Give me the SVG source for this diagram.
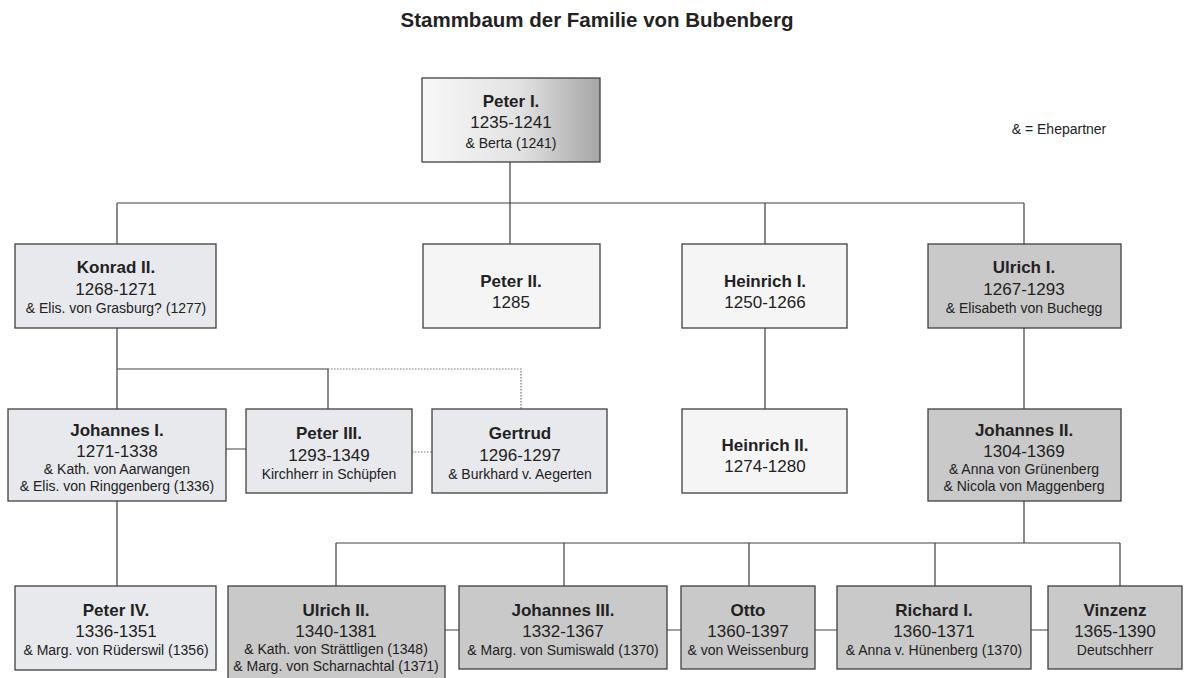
<svg xmlns="http://www.w3.org/2000/svg" width="1192" height="678" viewBox="0 0 1192 678">
<defs>
<linearGradient id="g1" x1="0" y1="0" x2="1" y2="0">
<stop offset="0" stop-color="#f8f8f8"/>
<stop offset="0.55" stop-color="#e2e2e2"/>
<stop offset="1" stop-color="#a6a6a6"/>
</linearGradient>
</defs>
<style>
.box{stroke:#404040;stroke-width:1.3}
.a{fill:#e8e9ec}
.b{fill:#f5f5f5}
.c{fill:#c9c9c9}
text{font-family:"Liberation Sans",Arial,sans-serif;fill:#222;text-anchor:middle}
.n{font-weight:bold;font-size:17px}
.y{font-size:17px}
.s{font-size:14px}
.t{font-weight:bold;font-size:20.5px}
.l{stroke:#404040;stroke-width:1.2;fill:none}
.d{stroke:#707070;stroke-width:1.2;fill:none;stroke-dasharray:1.5 1.5}
</style>
<rect width="1192" height="678" fill="#fff"/>
<text class="t" x="597" y="27">Stammbaum der Familie von Bubenberg</text>
<text x="1059" y="134" class="s">&amp; = Ehepartner</text>
<g id="connectors">
<path class="l" d="M510 162V203M117 203H1024M117 203V244M510 203V244M765 203V244M1024 203V244"/>
<path class="l" d="M117 328V409M117 369H328V409M226 449H246"/>
<path class="d" d="M328 369H521V409M412 452H432"/>
<path class="l" d="M765 328V409M1024 328V409"/>
<path class="l" d="M117 501V586M1024 501V543M336 543H1120M336 543V586M564 543V586M749 543V586M935 543V586M1120 543V586"/>
<path class="l" d="M445 630H459M667 630H681M815 630H837M1031 630H1048"/>
</g>
<g id="peter1"><rect class="box" x="422" y="78" width="178" height="84" fill="url(#g1)"/><text class="n" x="511" y="107">Peter I.</text><text class="y" x="511" y="128">1235-1241</text><text class="s" x="511" y="148">&amp; Berta (1241)</text></g>
<g id="konrad2"><rect class="box a" x="15" y="244" width="201" height="84"/><text class="n" x="116" y="273">Konrad II.</text><text class="y" x="116" y="295">1268-1271</text><text class="s" x="116" y="313">&amp; Elis. von Grasburg? (1277)</text></g>
<g id="peter2"><rect class="box b" x="423" y="244" width="177" height="84"/><text class="n" x="511" y="287">Peter II.</text><text class="y" x="511" y="308">1285</text></g>
<g id="heinrich1"><rect class="box b" x="682" y="244" width="165" height="84"/><text class="n" x="765" y="287">Heinrich I.</text><text class="y" x="765" y="308">1250-1266</text></g>
<g id="ulrich1"><rect class="box c" x="928" y="244" width="193" height="84"/><text class="n" x="1024" y="273">Ulrich I.</text><text class="y" x="1024" y="295">1267-1293</text><text class="s" x="1024" y="313">&amp; Elisabeth von Buchegg</text></g>
<g id="johannes1"><rect class="box a" x="8" y="409" width="218" height="92"/><text class="n" x="117" y="436">Johannes I.</text><text class="y" x="117" y="457">1271-1338</text><text class="s" x="117" y="474">&amp; Kath. von Aarwangen</text><text class="s" x="117" y="491">&amp; Elis. von Ringgenberg (1336)</text></g>
<g id="peter3"><rect class="box a" x="246" y="409" width="166" height="84"/><text class="n" x="329" y="439">Peter III.</text><text class="y" x="329" y="461">1293-1349</text><text class="s" x="329" y="479">Kirchherr in Schüpfen</text></g>
<g id="gertrud"><rect class="box a" x="432" y="409" width="175" height="84"/><text class="n" x="520" y="439">Gertrud</text><text class="y" x="520" y="461">1296-1297</text><text class="s" x="520" y="479">&amp; Burkhard v. Aegerten</text></g>
<g id="heinrich2"><rect class="box b" x="682" y="409" width="165" height="84"/><text class="n" x="765" y="451">Heinrich II.</text><text class="y" x="765" y="472">1274-1280</text></g>
<g id="johannes2"><rect class="box c" x="928" y="409" width="193" height="92"/><text class="n" x="1024" y="436">Johannes II.</text><text class="y" x="1024" y="457">1304-1369</text><text class="s" x="1024" y="474">&amp; Anna von Grünenberg</text><text class="s" x="1024" y="491">&amp; Nicola von Maggenberg</text></g>
<g id="peter4"><rect class="box a" x="15" y="586" width="201" height="84"/><text class="n" x="116" y="616">Peter IV.</text><text class="y" x="116" y="637">1336-1351</text><text class="s" x="116" y="655">&amp; Marg. von Rüderswil (1356)</text></g>
<g id="ulrich2"><rect class="box c" x="228" y="586" width="217" height="96"/><text class="n" x="336" y="616">Ulrich II.</text><text class="y" x="336" y="637">1340-1381</text><text class="s" x="336" y="654">&amp; Kath. von Strättligen (1348)</text><text class="s" x="336" y="671">&amp; Marg. von Scharnachtal (1371)</text></g>
<g id="johannes3"><rect class="box c" x="459" y="586" width="208" height="83"/><text class="n" x="563" y="616">Johannes III.</text><text class="y" x="563" y="637">1332-1367</text><text class="s" x="563" y="655">&amp; Marg. von Sumiswald (1370)</text></g>
<g id="otto"><rect class="box c" x="681" y="586" width="134" height="83"/><text class="n" x="748" y="616">Otto</text><text class="y" x="748" y="637">1360-1397</text><text class="s" x="748" y="655">&amp; von Weissenburg</text></g>
<g id="richard1"><rect class="box c" x="837" y="586" width="194" height="83"/><text class="n" x="934" y="616">Richard I.</text><text class="y" x="934" y="637">1360-1371</text><text class="s" x="934" y="655">&amp; Anna v. Hünenberg (1370)</text></g>
<g id="vinzenz"><rect class="box c" x="1048" y="586" width="134" height="83"/><text class="n" x="1115" y="616">Vinzenz</text><text class="y" x="1115" y="637">1365-1390</text><text class="s" x="1115" y="655">Deutschherr</text></g>
</svg>
